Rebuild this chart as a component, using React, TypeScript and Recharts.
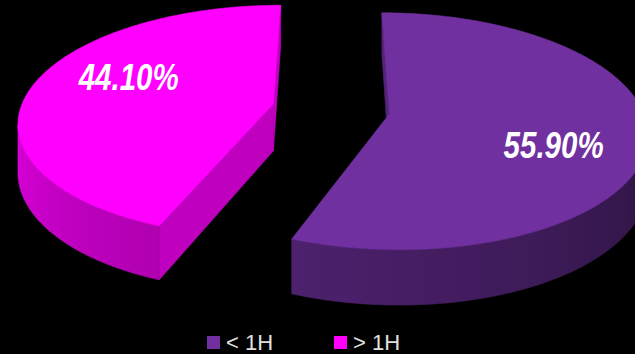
import React from 'react';
import { PieChart, Pie, Cell, Legend } from 'recharts';

// ---- data ----
const categories: string[] = ['< 1H', '> 1H'];
const shares: number[] = [55.9, 44.1];
const percentLabels: string[] = ['55.90%', '44.10%'];
const colors: string[] = ['#7030A0', '#FF00FF'];

const data = categories.map((name, i) => ({ name, value: shares[i] }));

// ---- 3D look ----
const TILT = 0.4526;
const PERSP = 0.145;
const DEPTH = 47;
const EXPLODE = 0.233;
const RAD = Math.PI / 180;

function shade(hex: string, f: number): string {
  const n = parseInt(hex.slice(1), 16);
  const r = Math.max(0, Math.min(255, Math.round(((n >> 16) & 255) * f)));
  const g = Math.max(0, Math.min(255, Math.round(((n >> 8) & 255) * f)));
  const b = Math.max(0, Math.min(255, Math.round((n & 255) * f)));
  return `rgb(${r},${g},${b})`;
}

type P = { x: number; y: number; d: number };

const wallFactor = (ang: number) => {
  let tn = ((ang % 360) + 360) % 360;
  if (tn < 90) tn += 360;
  return Math.max(0.3, Math.min(1, 0.88 - (tn - 180) * 0.0028));
};

const renderSlice = (props: any) => {
  const { cx, cy, outerRadius, startAngle, endAngle, midAngle, index } = props;
  const R = outerRadius;
  const a0 = Math.min(startAngle, endAngle);
  const a1 = Math.max(startAngle, endAngle);
  const ou = EXPLODE * Math.cos(midAngle * RAD);
  const ov = EXPLODE * Math.sin(midAngle * RAD);
  const proj = (r: number, ang: number): P => {
    const u = ou + r * Math.cos(ang * RAD);
    const v = ov + r * Math.sin(ang * RAD);
    const s = 1 / (1 + PERSP * v);
    return { x: cx + R * u * s, y: cy - R * TILT * v * s, d: DEPTH * s };
  };
  const base = colors[index % colors.length];
  const facing = (p1: P, p2: P) => {
    const pts = [
      [p1.x, p1.y],
      [p2.x, p2.y],
      [p2.x, p2.y + p2.d],
      [p1.x, p1.y + p1.d],
    ];
    let area = 0;
    for (let i = 0; i < 4; i++) {
      const [x1, y1] = pts[i];
      const [x2, y2] = pts[(i + 1) % 4];
      area += x1 * y2 - x2 * y1;
    }
    return area > 0;
  };
  const radialWalls: React.ReactNode[] = [];
  const radial = (p1: P, p2: P, key: string) => {
    if (!facing(p1, p2)) return;
    const fill = shade(base, 0.75);
    radialWalls.push(
      <polygon
        key={key}
        points={`${p1.x},${p1.y} ${p2.x},${p2.y} ${p2.x},${p2.y + p2.d} ${p1.x},${p1.y + p1.d}`}
        fill={fill}
        stroke={fill}
        strokeWidth={0.6}
      />
    );
  };
  const center = proj(0, 0);
  radial(center, proj(1, a0), 'r0');
  radial(proj(1, a1), center, 'r1');

  const n = Math.max(1, Math.ceil((a1 - a0) * 2));
  const step = (a1 - a0) / n;
  const arc: P[] = [];
  const angs: number[] = [];
  for (let i = 0; i <= n; i++) {
    angs.push(a0 + i * step);
    arc.push(proj(1, a0 + i * step));
  }
  // visible outer wall run
  let first = -1;
  let last = -1;
  for (let i = 0; i < n; i++) {
    if (facing(arc[i], arc[i + 1])) {
      if (first < 0) first = i;
      last = i + 1;
    }
  }
  let outer: React.ReactNode = null;
  let defs: React.ReactNode = null;
  const gid = 'wallGrad' + index;
  if (first >= 0) {
    const vis = arc.slice(first, last + 1);
    const va = angs.slice(first, last + 1);
    const xs = vis.map((p) => p.x);
    const xmin = Math.min(...xs);
    const xmax = Math.max(...xs);
    const span = Math.max(1, xmax - xmin);
    const stops: React.ReactNode[] = [];
    const order = vis.map((p, i) => i).sort((a, b) => vis[a].x - vis[b].x);
    order.forEach((i, k) => {
      if (k % 4 !== 0 && k !== order.length - 1) return;
      stops.push(
        <stop key={'s' + k} offset={(vis[i].x - xmin) / span} stopColor={shade(base, wallFactor(va[i]))} />
      );
    });
    defs = (
      <defs>
        <linearGradient id={gid} gradientUnits="userSpaceOnUse" x1={xmin} y1={0} x2={xmax} y2={0}>
          {stops}
        </linearGradient>
      </defs>
    );
    const topSide = vis.map((p) => `${p.x},${p.y}`);
    const botSide = vis
      .slice()
      .reverse()
      .map((p) => `${p.x},${p.y + p.d}`);
    outer = (
      <polygon
        points={[...topSide, ...botSide].join(' ')}
        fill={`url(#${gid})`}
        stroke={`url(#${gid})`}
        strokeWidth={0.6}
      />
    );
  }
  const topPts = [center, ...arc].map((p) => `${p.x},${p.y}`).join(' ');
  const lp = proj(0.66, midAngle - 12);
  return (
    <g key={'slice' + index}>
      {defs}
      {radialWalls}
      {outer}
      <polygon points={topPts} fill={base} stroke={base} strokeWidth={0.6} />
      <text
        x={lp.x + 1}
        y={lp.y + 13.5}
        textAnchor="middle"
        fill="#FFFFFF"
        fontFamily="'Liberation Sans', Arial, sans-serif"
        fontWeight="bold"
        fontStyle="italic"
        fontSize={37}
        textLength={100}
        lengthAdjust="spacingAndGlyphs"
      >
        {percentLabels[index]}
      </text>
    </g>
  );
};

const renderLegend = (props: any) => {
  const payload = props.payload || [];
  return (
    <div style={{ display: 'flex', alignItems: 'center' }}>
      {payload.map((entry: any, i: number) => (
        <div
          key={'lg' + i}
          style={{ display: 'flex', alignItems: 'center', marginRight: i === 0 ? 61 : 0 }}
        >
          <span
            style={{
              width: 13,
              height: 13,
              background: entry.color || colors[i],
              display: 'inline-block',
              marginRight: 6,
            }}
          />
          <span
            style={{
              color: '#e0e0e0',
              fontSize: 22,
              fontFamily: "'Liberation Sans', Arial, sans-serif",
              lineHeight: '25px',
              whiteSpace: 'nowrap',
            }}
          >
            {entry.value}
          </span>
        </div>
      ))}
    </div>
  );
};

export default function App() {
  return (
    <div
      style={{
        position: 'absolute',
        left: 0,
        top: 0,
        width: 635,
        height: 354,
        background: '#000000',
        overflow: 'hidden',
      }}
    >
      <PieChart width={635} height={354} margin={{ top: 0, right: 0, bottom: 0, left: 0 }}>
        <Pie
          data={data}
          dataKey="value"
          nameKey="name"
          cx={331}
          cy={109}
          outerRadius={253}
          startAngle={90}
          endAngle={-270}
          stroke="none"
          fillOpacity={0}
          legendType="square"
          labelLine={false}
          label={renderSlice}
          isAnimationActive={false}
        >
          {data.map((d, i) => (
            <Cell key={d.name} fill={colors[i]} fillOpacity={0} stroke="none" />
          ))}
        </Pie>
        <Legend
          content={renderLegend}
          wrapperStyle={{ position: 'absolute', left: 207, top: 330, bottom: 'auto', width: 'auto', margin: 0 }}
        />
      </PieChart>
    </div>
  );
}
